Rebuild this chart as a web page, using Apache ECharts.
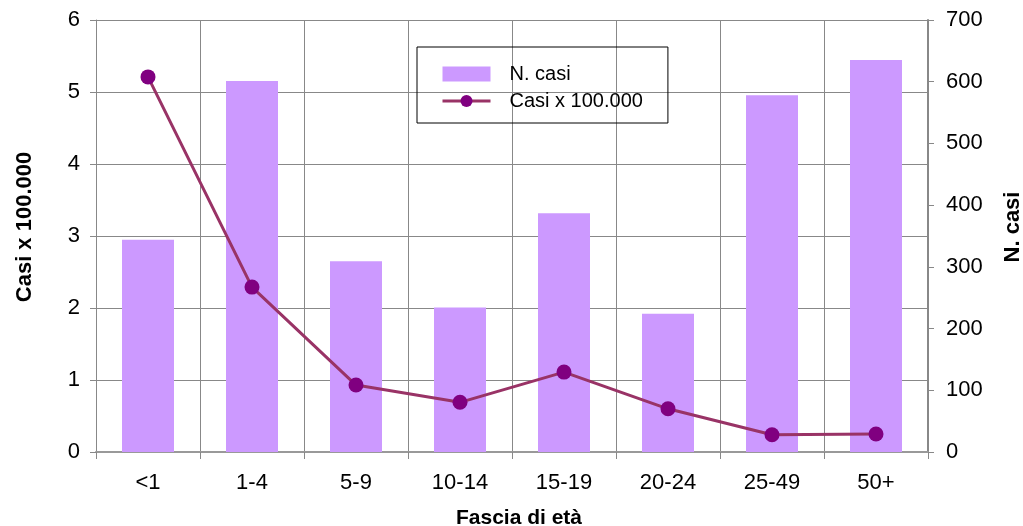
<!DOCTYPE html>
<html><head><meta charset="utf-8">
<script src="https://cdn.jsdelivr.net/npm/echarts@6/dist/echarts.min.js"></script>
<style>html,body{margin:0;padding:0;background:#fff}#c{width:1023px;height:526px}</style>
</head><body><div id="c"></div>
<script>
const categories = ['<1','1-4','5-9','10-14','15-19','20-24','25-49','50+'];
const nCasi = [344, 601, 309, 234, 387, 224, 578, 635];
const casi100k = [5.21, 2.29, 0.93, 0.69, 1.11, 0.60, 0.24, 0.25];

const font = 'Liberation Sans, Arial, sans-serif';
const chart = echarts.init(document.getElementById('c'), null, {renderer:'canvas'});
chart.setOption({
  animation: false,
  backgroundColor: '#fff',
  grid: {left: 96, right: 95, top: 20, bottom: 74, containLabel: false, outerBoundsMode: 'none'},
  legend: {
    left: 417, top: 47,
    orient: 'vertical',
    borderColor: '#000', borderWidth: 1,
    padding: [17, 25, 12, 24],
    itemWidth: 48, itemHeight: 15, itemGap: 7,
    textStyle: {fontFamily: font, fontSize: 20, color: '#000', padding: [0,0,0,14]},
    lineStyle: {width: 3},
    data: [{name: 'N. casi', icon: 'rect'}, {name: 'Casi x 100.000'}]
  },
  xAxis: {
    type: 'category', data: categories,
    name: 'Fascia di età', nameLocation: 'middle', nameGap: 56,
    nameTextStyle: {fontFamily: font, fontSize: 21, fontWeight: 'bold', color: '#000', padding: [0, 0, 0, 14]},
    axisLine: {lineStyle: {color: '#999', width: 2}},
    axisTick: {show: true, length: 7, lineStyle: {color: '#888'}},
    splitLine: {show: true, lineStyle: {color: '#888', width: 1}},
    axisLabel: {fontFamily: font, fontSize: 22, color: '#000', margin: 20}
  },
  yAxis: [{
    type: 'value', min: 0, max: 6, interval: 1,
    name: 'Casi x 100.000', nameLocation: 'middle', nameGap: 60, nameRotate: 90,
    nameTextStyle: {fontFamily: font, fontSize: 22, fontWeight: 'bold', color: '#000', padding: [0, 0, 0, 18]},
    axisLine: {show: true, lineStyle: {color: '#888', width: 1}},
    axisTick: {show: true, length: 6, lineStyle: {color: '#888'}},
    splitLine: {show: true, lineStyle: {color: '#888', width: 1}},
    axisLabel: {fontFamily: font, fontSize: 22, color: '#000', margin: 16}
  }, {
    type: 'value', min: 0, max: 700, interval: 100,
    name: 'N. casi', nameLocation: 'middle', nameGap: 74, nameRotate: 90,
    nameTextStyle: {fontFamily: font, fontSize: 22, fontWeight: 'bold', color: '#000', padding: [0, 0, 0, 18]},
    axisLine: {show: true, lineStyle: {color: '#888', width: 2}},
    axisTick: {show: true, length: 6, lineStyle: {color: '#888'}},
    splitLine: {show: false},
    axisLabel: {fontFamily: font, fontSize: 22, color: '#000', margin: 18}
  }],
  series: [{
    name: 'N. casi', type: 'bar', yAxisIndex: 1, data: nCasi,
    barWidth: '50%', itemStyle: {color: '#CC99FF'}
  }, {
    name: 'Casi x 100.000', type: 'line', yAxisIndex: 0, data: casi100k,
    symbol: 'circle', symbolSize: 15,
    lineStyle: {color: '#993366', width: 3},
    itemStyle: {color: '#800080'}
  }]
});
</script></body></html>
